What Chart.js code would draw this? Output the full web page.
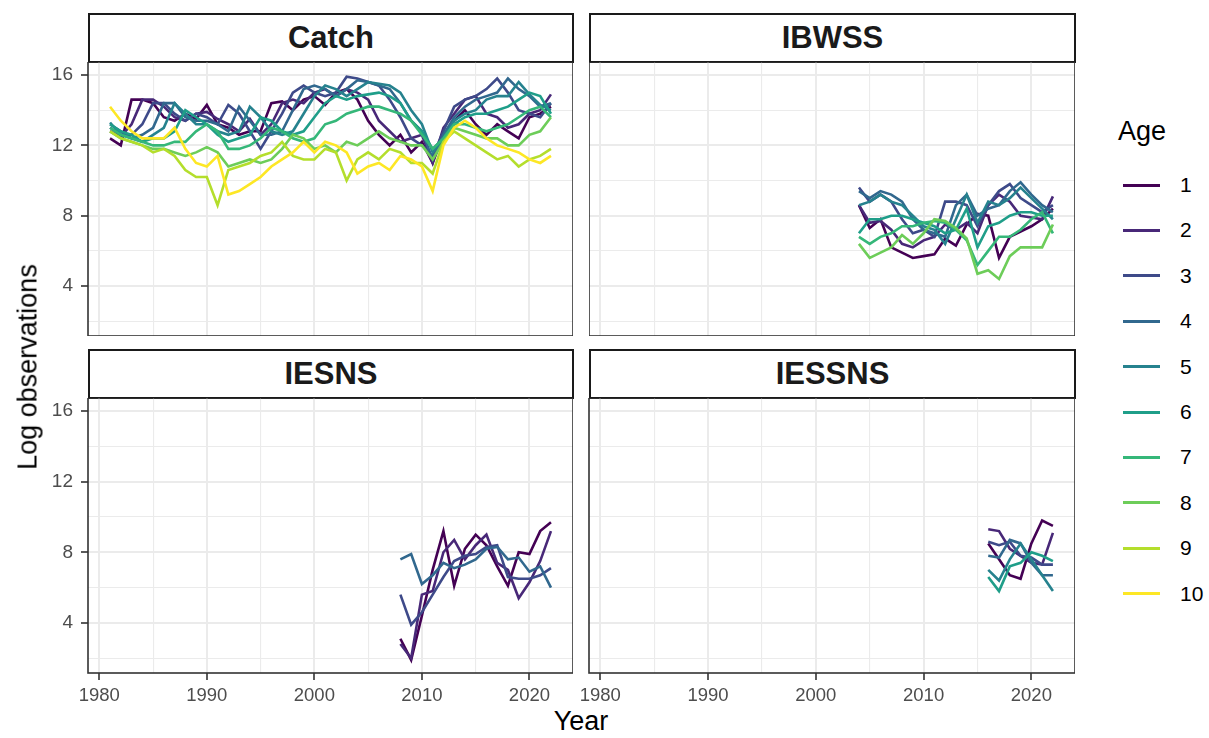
<!DOCTYPE html>
<html>
<head>
<meta charset="utf-8">
<script src="https://cdn.jsdelivr.net/npm/chart.js@4"></script>
<style>
  body { margin: 0; background: #fff; font-family: "Liberation Sans", Arial, sans-serif; }
  #wrap { position: relative; width: 1209px; height: 738px; overflow: hidden; }
  canvas { position: absolute; }
  .strip { position: absolute; box-sizing: border-box; border: 2px solid #1a1a1a; background: #fff;
           font-weight: bold; font-size: 31px; color: #1a1a1a; text-align: center; }
  .title { position: absolute; font-size: 27px; color: #000; white-space: nowrap; }
  .leg-line { position: absolute; height: 3px; width: 37px; }
  .leg-lab { position: absolute; font-size: 21px; color: #000; }
</style>
</head>
<body>
<div id="wrap">
  <div class="strip" style="left:88px;top:13px;width:486px;height:50px;line-height:46px">Catch</div>
  <div class="strip" style="left:589px;top:13px;width:487px;height:50px;line-height:46px">IBWSS</div>
  <div class="strip" style="left:88px;top:349px;width:486px;height:50px;line-height:46px">IESNS</div>
  <div class="strip" style="left:589px;top:349px;width:487px;height:50px;line-height:46px">IESSNS</div>
  <canvas id="catchChart"></canvas>
  <canvas id="ibwssChart"></canvas>
  <canvas id="iesnsChart"></canvas>
  <canvas id="iessnsChart"></canvas>
  <div class="title" style="left:28px;top:367px;transform:translate(-50%,-50%) rotate(-90deg)">Log observations</div>
  <div class="title" style="left:581px;top:721px;transform:translate(-50%,-50%)">Year</div>
  <div class="title" style="left:1118px;top:116px">Age</div>
  <div id="legend"></div>
</div>
<script>
// --- data ---
const ageColors = ['#440154', '#482878', '#3E4A89', '#31688E', '#26828E',
                   '#1F9E89', '#35B779', '#6DCD59', '#B4DE2C', '#FDE725'];
const ageLabels = ['1', '2', '3', '4', '5', '6', '7', '8', '9', '10'];

const catchYears = [1981, 1982, 1983, 1984, 1985, 1986, 1987, 1988, 1989, 1990,
                    1991, 1992, 1993, 1994, 1995, 1996, 1997, 1998, 1999, 2000,
                    2001, 2002, 2003, 2004, 2005, 2006, 2007, 2008, 2009, 2010,
                    2011, 2012, 2013, 2014, 2015, 2016, 2017, 2018, 2019, 2020,
                    2021, 2022];
const catchAge1 = [12.4, 12.0, 14.6, 14.6, 14.4, 13.6, 13.4, 13.8, 13.5, 14.3,
                   13.2, 13.0, 12.6, 12.8, 12.8, 14.4, 14.5, 14.0, 14.6, 14.8,
                   14.3, 15.0, 15.2, 14.6, 13.4, 12.6, 12.0, 12.6, 11.6, 12.2,
                   11.0, 12.6, 13.4, 14.0, 13.2, 12.6, 13.2, 12.8, 12.4, 13.6,
                   13.8, 14.2];
const catchAge2 = [12.8, 12.5, 13.2, 14.6, 14.6, 14.2, 13.6, 13.4, 13.8, 13.9,
                   13.5, 13.2, 12.8, 13.5, 12.6, 13.2, 14.4, 14.6, 14.4, 15.0,
                   15.2, 14.8, 15.2, 15.0, 14.6, 13.4, 12.8, 12.2, 12.4, 12.6,
                   11.0, 13.0, 13.8, 14.6, 14.8, 13.8, 13.6, 13.0, 13.2, 13.8,
                   14.0, 14.9];
const catchAge3 = [13.0, 12.6, 12.6, 13.2, 14.4, 14.4, 13.8, 13.4, 13.8, 13.6,
                   13.2, 14.3, 13.8, 12.8, 11.8, 12.8, 13.8, 15.0, 15.4, 15.0,
                   14.8, 15.0, 15.9, 15.8, 15.6, 15.4, 14.6, 13.6, 12.4, 12.0,
                   11.4, 12.8, 14.2, 14.6, 14.8, 15.2, 15.8, 15.0, 14.0, 13.8,
                   13.6, 14.4];
const catchAge4 = [13.2, 12.8, 12.4, 12.6, 13.0, 14.4, 14.4, 13.6, 13.4, 13.4,
                   13.2, 12.8, 14.2, 13.4, 12.6, 12.6, 12.8, 14.0, 15.2, 15.4,
                   15.2, 14.8, 15.2, 15.7, 15.6, 15.4, 15.2, 14.4, 13.4, 12.8,
                   11.2, 12.6, 13.6, 14.2, 14.6, 14.8, 15.0, 15.8, 15.2, 14.8,
                   14.2, 14.4];
const catchAge5 = [13.3, 12.6, 12.4, 12.2, 12.6, 13.0, 14.4, 13.8, 13.2, 13.2,
                   12.8, 12.6, 12.8, 14.2, 13.6, 12.8, 12.6, 12.8, 13.8, 14.8,
                   15.4, 15.2, 14.8, 15.2, 15.6, 15.5, 15.4, 15.0, 14.0, 13.2,
                   11.6, 12.4, 13.4, 13.8, 14.0, 14.6, 14.8, 14.8, 15.6, 14.9,
                   14.3, 14.0];
const catchAge6 = [13.2, 12.8, 12.6, 12.2, 12.4, 12.4, 12.8, 14.0, 13.6, 13.2,
                   12.6, 12.2, 12.4, 12.6, 13.6, 13.4, 12.8, 12.6, 12.8, 13.6,
                   14.4, 14.8, 14.6, 14.8, 14.9, 15.0, 14.8, 14.4, 13.4, 12.8,
                   11.8, 12.4, 13.2, 13.6, 13.8, 13.8, 14.0, 14.2, 14.6, 15.0,
                   14.8, 13.8];
const catchAge7 = [13.0, 12.6, 12.4, 12.2, 12.0, 12.0, 12.2, 12.2, 12.8, 13.2,
                   12.8, 11.8, 11.8, 12.0, 12.4, 13.0, 12.8, 12.4, 12.2, 12.4,
                   13.2, 13.4, 13.8, 14.0, 14.2, 14.2, 14.0, 13.8, 13.4, 12.6,
                   11.8, 12.4, 13.2, 13.2, 13.0, 12.8, 13.0, 13.2, 13.6, 14.0,
                   14.2, 13.6];
const catchAge8 = [12.8, 12.4, 12.2, 12.0, 11.8, 11.8, 11.6, 11.4, 11.6, 11.9,
                   11.6, 10.8, 11.0, 11.2, 11.0, 11.2, 11.8, 12.6, 12.4, 11.8,
                   12.0, 11.6, 12.2, 12.0, 12.4, 12.8, 12.4, 12.2, 12.0, 12.0,
                   11.2, 12.2, 13.0, 12.8, 12.6, 12.4, 12.4, 12.0, 12.0, 12.6,
                   12.8, 13.6];
const catchAge9 = [12.8, 12.4, 12.2, 12.0, 11.6, 11.8, 11.4, 10.6, 10.2, 10.2,
                   8.6, 10.6, 10.8, 11.0, 11.4, 11.6, 12.2, 11.4, 11.2, 11.2,
                   11.8, 11.6, 10.0, 11.2, 11.6, 11.2, 11.8, 11.6, 11.0, 11.0,
                   10.4, 12.2, 12.8, 12.4, 12.0, 11.6, 11.2, 11.4, 10.8, 11.2,
                   11.4, 11.8];
const catchAge10 = [14.2, 13.4, 12.8, 12.4, 12.4, 12.4, 13.0, 11.8, 11.0, 10.8,
                    11.4, 9.2, 9.4, 9.8, 10.2, 10.8, 11.2, 11.6, 12.2, 11.6,
                    12.2, 12.0, 11.6, 10.4, 10.8, 11.0, 10.6, 11.4, 11.2, 10.8,
                    9.4, 12.0, 13.0, 13.4, 13.0, 12.4, 12.0, 11.8, 11.6, 11.2,
                    11.0, 11.4];

const ibwssYears = [2004, 2005, 2006, 2007, 2008, 2009, 2010, 2011, 2012, 2013,
                    2014, 2015, 2016, 2017, 2018, 2019, 2020, 2021, 2022];
const ibwssAge1 = [8.6, 7.3, 7.8, 6.2, 5.9, 5.6, 5.7, 5.8, 6.7, 6.3, 7.5, 8.1, 8.0, 5.6, 6.8, 7.1, 7.4, 7.8, 8.4];
const ibwssAge2 = [8.6, 7.6, 7.7, 7.2, 6.4, 6.2, 6.6, 6.8, 7.5, 7.2, 7.6, 7.0, 8.6, 9.2, 8.8, 8.0, 7.9, 7.8, 9.1];
const ibwssAge3 = [9.6, 8.8, 9.2, 8.8, 7.8, 7.0, 7.2, 6.8, 8.8, 8.8, 8.6, 7.4, 8.6, 9.4, 9.8, 9.0, 8.6, 8.2, 8.6];
const ibwssAge4 = [9.4, 9.0, 9.4, 9.2, 8.8, 7.8, 7.2, 7.0, 6.8, 8.6, 9.2, 8.0, 8.4, 8.6, 9.4, 9.9, 9.2, 8.6, 8.2];
const ibwssAge5 = [8.6, 8.8, 9.2, 8.8, 8.6, 8.0, 7.4, 7.2, 6.4, 7.8, 9.2, 7.6, 8.8, 8.6, 9.0, 9.6, 9.0, 8.4, 7.8];
const ibwssAge6 = [7.0, 7.8, 7.8, 8.0, 8.0, 7.8, 7.6, 7.4, 7.0, 7.2, 8.4, 6.2, 7.4, 7.6, 8.0, 8.2, 8.2, 8.0, 8.0];
const ibwssAge7 = [6.8, 6.4, 6.8, 7.0, 7.4, 7.4, 7.6, 7.7, 7.6, 7.2, 6.6, 5.2, 6.0, 6.8, 6.8, 7.2, 7.8, 8.2, 7.0];
const ibwssAge8 = [6.4, 5.6, 5.9, 6.2, 6.9, 6.4, 7.0, 7.8, 7.7, 7.3, 6.7, 4.7, 4.9, 4.4, 5.7, 6.2, 6.2, 6.2, 7.5];

const iesnsYears = [2008, 2009, 2010, 2011, 2012, 2013, 2014, 2015, 2016, 2017, 2018, 2019, 2020, 2021, 2022];
const iesnsAge1 = [3.1, 1.9, 4.4, 7.0, 9.2, 6.1, 8.2, 9.0, 8.4, 7.2, 6.1, 8.0, 7.9, 9.2, 9.7];
const iesnsAge2 = [2.8, 2.0, 5.6, 5.8, 8.0, 8.7, 7.6, 8.4, 9.0, 7.4, 7.0, 5.4, 6.3, 7.5, 9.2];
const iesnsAge3 = [5.6, 3.9, 4.6, 5.6, 6.6, 7.5, 7.8, 7.9, 8.3, 8.4, 6.6, 6.5, 6.5, 6.7, 7.1];
const iesnsAge4 = [7.6, 7.9, 6.2, 6.7, 7.4, 7.1, 7.3, 7.6, 8.2, 8.3, 7.6, 7.7, 6.9, 7.2, 6.0];

const iessnsYears = [2016, 2017, 2018, 2019, 2020, 2021, 2022];
const iessnsAge1 = [8.5, 7.6, 6.7, 6.5, 8.5, 9.8, 9.5];
const iessnsAge2 = [9.3, 9.2, 8.2, 7.8, 7.4, 7.3, 9.1];
const iessnsAge3 = [8.6, 8.4, 8.6, 7.8, 7.7, 7.3, 7.3];
const iessnsAge4 = [7.8, 7.7, 8.7, 8.5, 7.4, 6.7, 6.7];
const iessnsAge5 = [7.0, 6.4, 7.6, 8.5, 7.6, 6.7, 5.8];
const iessnsAge6 = [6.6, 5.8, 7.2, 7.4, 8.0, 7.8, 7.5];

const yearTicks = [1980, 1990, 2000, 2010, 2020];
const valueTicks = [4, 8, 12, 16];

// --- helpers ---
const FONT = '"Liberation Sans", Arial, sans-serif';
const isMajorY = v => valueTicks.includes(v);
const isMajorX = v => yearTicks.includes(v);

function makeSets(years, series) {
    return series.map((vals, i) => ({
        label: ageLabels[i],
        data: years.map((y, j) => ({ x: y, y: vals[j] })),
        borderColor: ageColors[i],
        backgroundColor: ageColors[i],
        borderWidth: 2.6,
        pointRadius: 0,
        tension: 0,
        order: 10 - i
    }));
}

// panel border, like the dark frame of each facet
const framePlugin = {
    id: 'frame',
    afterDraw(chart) {
        const a = chart.chartArea, ctx = chart.ctx;
        ctx.save();
        ctx.strokeStyle = '#333';
        ctx.lineWidth = 1.6;
        ctx.strokeRect(a.left, a.top, a.right - a.left, a.bottom - a.top);
        ctx.restore();
    }
};

function panel(id, pos, sets, showY, showX) {
    const cv = document.getElementById(id);
    cv.style.left = pos.left + 'px';
    cv.style.top = pos.top + 'px';
    cv.style.width = pos.w + 'px';
    cv.style.height = pos.h + 'px';
    cv.width = pos.w;
    cv.height = pos.h;
    new Chart(cv, {
        type: 'line',
        data: { datasets: sets },
        plugins: [framePlugin],
        options: {
            responsive: false,
            animation: false,
            layout: { padding: 0 },
            plugins: { legend: { display: false }, tooltip: { enabled: false } },
            scales: {
                x: {
                    type: 'linear',
                    min: 1978.95, max: 2024.05,
                    border: { display: false },
                    grid: {
                        color: '#ebebeb',
                        lineWidth: c => (c.tick && isMajorX(c.tick.value)) ? 2 : 1.1,
                        drawTicks: showX,
                        tickLength: 7,
                        tickWidth: 1.6,
                        tickColor: c => (c.tick && isMajorX(c.tick.value)) ? '#333' : 'rgba(0,0,0,0)'
                    },
                    ticks: {
                        display: showX,
                        stepSize: 5,
                        includeBounds: false,
                        autoSkip: false,
                        maxRotation: 0,
                        padding: 5,
                        color: '#4d4d4d',
                        font: { family: FONT, size: 18.5 },
                        callback: v => isMajorX(v) ? String(v) : ''
                    },
                    afterFit: s => { s.height = pos.h - pos.plotH; s.paddingLeft = 0; s.paddingRight = 0; }
                },
                y: {
                    type: 'linear',
                    min: 1.16, max: 16.74,
                    border: { display: false },
                    grid: {
                        color: '#ebebeb',
                        lineWidth: c => (c.tick && isMajorY(c.tick.value)) ? 2 : 1.1,
                        drawTicks: showY,
                        tickLength: 7,
                        tickWidth: 1.6,
                        tickColor: c => (c.tick && isMajorY(c.tick.value)) ? '#333' : 'rgba(0,0,0,0)'
                    },
                    ticks: {
                        display: showY,
                        stepSize: 2,
                        includeBounds: false,
                        autoSkip: false,
                        padding: 8,
                        color: '#4d4d4d',
                        font: { family: FONT, size: 19 },
                        callback: v => isMajorY(v) ? String(v) : ''
                    },
                    afterFit: s => { s.width = pos.w - pos.plotW; s.paddingTop = 0; s.paddingBottom = 0; }
                }
            }
        }
    });
}

panel('catchChart', { left: 0, top: 62, w: 573, h: 274, plotW: 485, plotH: 274 },
      makeSets(catchYears, [catchAge1, catchAge2, catchAge3, catchAge4, catchAge5,
                            catchAge6, catchAge7, catchAge8, catchAge9, catchAge10]), true, false);
panel('ibwssChart', { left: 589, top: 62, w: 486, h: 274, plotW: 486, plotH: 274 },
      makeSets(ibwssYears, [ibwssAge1, ibwssAge2, ibwssAge3, ibwssAge4,
                            ibwssAge5, ibwssAge6, ibwssAge7, ibwssAge8]), false, false);
panel('iesnsChart', { left: 0, top: 398, w: 573, h: 305, plotW: 485, plotH: 275 },
      makeSets(iesnsYears, [iesnsAge1, iesnsAge2, iesnsAge3, iesnsAge4]), true, true);
panel('iessnsChart', { left: 575, top: 398, w: 500, h: 305, plotW: 486, plotH: 275 },
      makeSets(iessnsYears, [iessnsAge1, iessnsAge2, iessnsAge3, iessnsAge4,
                             iessnsAge5, iessnsAge6]), false, true);

// legend
const legend = document.getElementById('legend');
ageLabels.forEach((lab, i) => {
    const y = 185 + i * 45.4;
    const ln = document.createElement('div');
    ln.className = 'leg-line';
    ln.style.left = '1123px';
    ln.style.top = (y - 1.5) + 'px';
    ln.style.background = ageColors[i];
    legend.appendChild(ln);
    const t = document.createElement('div');
    t.className = 'leg-lab';
    t.style.left = '1180px';
    t.style.top = (y - 12) + 'px';
    t.textContent = lab;
    legend.appendChild(t);
});
</script>
</body>
</html>
